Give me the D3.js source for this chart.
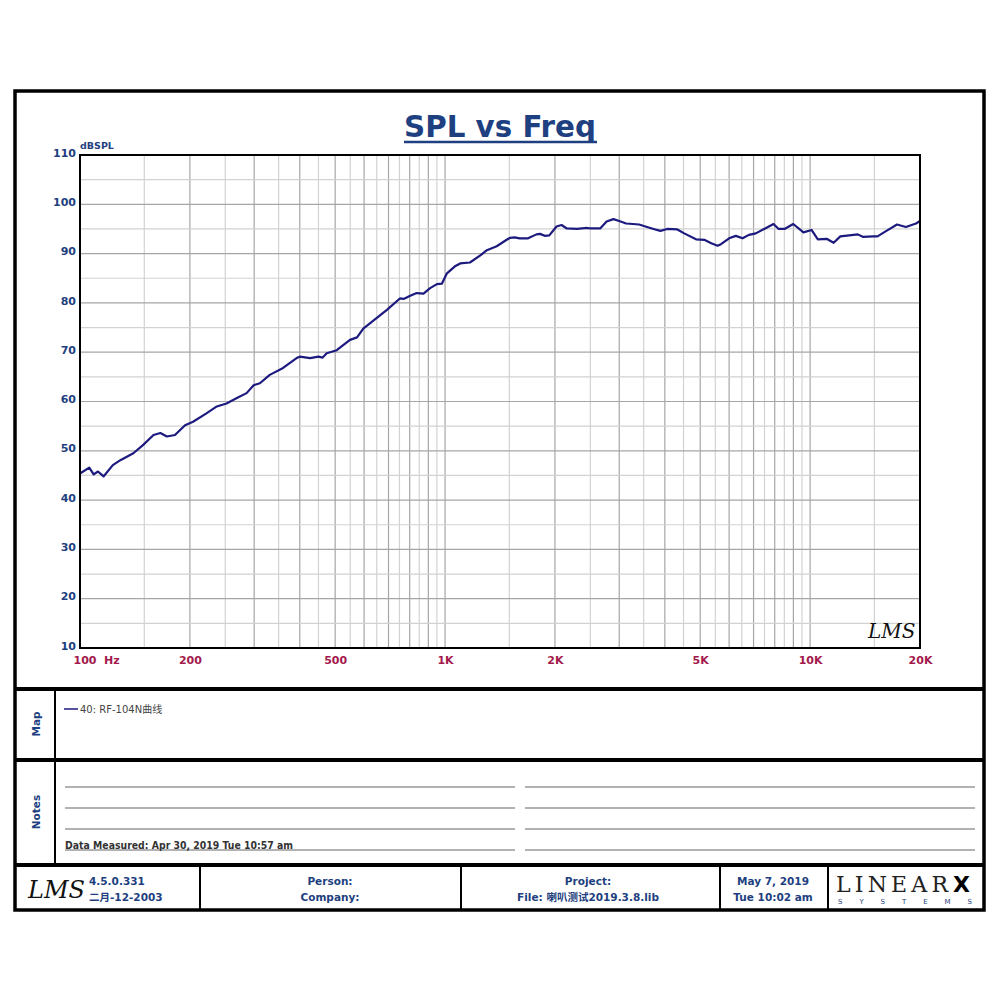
<!DOCTYPE html>
<html><head><meta charset="utf-8">
<script src="https://cdn.jsdelivr.net/npm/d3@7"></script>
<style>body{margin:0;background:#fff}svg{display:block}</style>
</head><body>
<svg id="c" width="1000" height="1000"></svg>
<script>
// ---- data ----
const freqs = [100,106,109,112,116,123,129,140,149,159,166,173,182,194,204,222,237,252,269,286,299,311,331,360,392,400,427,450,462,474,505,549,574,597,649,693,752,770,800,836,873,910,950,980,1012,1068,1100,1170,1252,1302,1385,1475,1508,1550,1600,1688,1780,1820,1875,1930,2020,2085,2155,2296,2450,2500,2660,2770,2893,3000,3133,3270,3400,3575,3725,3890,4060,4330,4520,4870,5130,5360,5580,5700,6000,6260,6530,6800,7100,7530,7940,8200,8510,8990,9590,10090,10500,11100,11600,12100,13150,13500,13940,14900,15300,16100,17300,18300,19500,20000];
const splValues = [45.4,46.6,45.2,45.8,44.8,47.1,48.1,49.5,51.2,53.2,53.6,52.9,53.2,55.2,55.9,57.6,59.0,59.6,60.7,61.7,63.3,63.7,65.4,66.8,68.8,69.1,68.8,69.1,68.9,69.8,70.4,72.5,73.0,74.8,76.9,78.6,80.9,80.8,81.4,82.0,81.9,83.0,83.8,83.9,86.0,87.5,88.0,88.2,89.7,90.7,91.5,92.8,93.2,93.3,93.1,93.1,93.9,94.0,93.6,93.7,95.5,95.8,95.1,95.0,95.2,95.1,95.1,96.5,97.0,96.6,96.1,96.0,95.9,95.4,95.0,94.6,95.0,94.9,94.1,92.9,92.8,92.1,91.6,91.9,93.1,93.6,93.1,93.8,94.1,95.1,96.0,95.0,95.0,96.0,94.3,94.8,92.9,93.0,92.2,93.5,93.8,93.9,93.4,93.5,93.5,94.5,95.9,95.4,96.1,96.6];
const xTickValues = [100,200,500,1000,2000,5000,10000,20000];
const xTickLabels = ["100  Hz","200","500","1K","2K","5K","10K","20K"];
const yTickValues = [10,20,30,40,50,60,70,80,90,100,110];
const seriesName = "40: RF-104N曲线";

const navy = "#1e3f80", crimson = "#a3194c", curveCol = "#1c1a7e";
const svg = d3.select("#c");
const L = 80, R = 920, T = 155, B = 648;
const x = d3.scaleLog().domain([100,20000]).range([L,R]);
const y = d3.scaleLinear().domain([10,110]).range([B,T]);

// outer frame
svg.append("rect").attr("x",15).attr("y",91).attr("width",969).attr("height",819)
  .attr("fill","none").attr("stroke","#000").attr("stroke-width",3.5);

// title
svg.append("text").attr("x",500).attr("y",137).attr("text-anchor","middle")
  .attr("font-family","DejaVu Sans, sans-serif").attr("font-weight","bold").attr("font-size",30)
  .attr("fill",navy).attr("textLength",192).attr("lengthAdjust","spacingAndGlyphs").text("SPL vs Freq");
svg.append("line").attr("x1",404).attr("x2",597).attr("y1",142).attr("y2",142).attr("stroke",navy).attr("stroke-width",2.5);

// grid
const gridF = [];
[100,1000,10000].forEach(d=>{ for(let m=1;m<10;m+=0.5){ const f=d*m; if(f>100 && f<20000) gridF.push({f, major: m%1===0}); } });
svg.append("g").selectAll("line").data(gridF).join("line")
  .attr("x1",d=>x(d.f)).attr("x2",d=>x(d.f)).attr("y1",T).attr("y2",B)
  .attr("stroke",d=>d.major?"#a6a6a6":"#d2d2d2").attr("stroke-width",1.2);
const gridY = d3.range(15,110,5);
svg.append("g").selectAll("line").data(gridY).join("line")
  .attr("x1",L).attr("x2",R).attr("y1",d=>y(d)).attr("y2",d=>y(d))
  .attr("stroke",d=>d%10===0?"#a6a6a6":"#d2d2d2").attr("stroke-width",1.2);

// curve
const line = d3.line().x(d=>x(d[0])).y(d=>y(d[1])).curve(d3.curveLinear);
svg.append("path").datum(freqs.map((f,i)=>[f,splValues[i]]))
  .attr("d",line).attr("fill","none").attr("stroke",curveCol).attr("stroke-width",2.2).attr("stroke-linejoin","round");

// plot border
svg.append("rect").attr("x",L).attr("y",T).attr("width",R-L).attr("height",B-T)
  .attr("fill","none").attr("stroke","#000").attr("stroke-width",2);

// axes
const xa = svg.append("g").attr("transform",`translate(0,${B})`)
  .call(d3.axisBottom(x).tickValues(xTickValues).tickSize(0).tickFormat((d,i)=>xTickLabels[i]));
xa.select(".domain").remove();
xa.selectAll("text").attr("dy",0).attr("y",16).attr("fill",crimson)
  .attr("font-family","DejaVu Sans, sans-serif").attr("font-size",11).attr("font-weight","bold")
  .style("white-space","pre").attr("xml:space","preserve");
xa.selectAll("text").filter((d,i)=>i===0).attr("text-anchor","start").attr("x",-7);
const ya = svg.append("g").attr("transform",`translate(${L},0)`)
  .call(d3.axisLeft(y).tickValues(yTickValues).tickSize(0).tickPadding(4));
ya.select(".domain").remove();
ya.selectAll("text").attr("fill",navy).attr("font-family","DejaVu Sans, sans-serif")
  .attr("font-size",11).attr("font-weight","bold").attr("dy","0.1em");
svg.append("text").attr("x",80).attr("y",149).attr("fill",navy)
  .attr("font-family","DejaVu Sans, sans-serif").attr("font-size",9.5).attr("font-weight","bold").text("dBSPL");

// LMS logo in plot
svg.append("text").attr("x",868).attr("y",638).attr("font-family","DejaVu Serif, serif").attr("font-style","italic")
  .attr("font-size",20).attr("fill","#111").attr("transform","rotate(0)").text("LMS");

// section lines
const thick = (x1,y1,x2,y2,w)=>svg.append("line").attr("x1",x1).attr("y1",y1).attr("x2",x2).attr("y2",y2).attr("stroke","#000").attr("stroke-width",w);
thick(15,689,984,689,4);
thick(15,760,984,760,4);
thick(15,865,984,865,4);
thick(55,689,55,865,2);
thick(200,865,200,910,2);
thick(461,865,461,910,2);
thick(720,865,720,910,2);
thick(828,865,828,910,2);

// side labels
[["Map",724],["Notes",812]].forEach(([t,cy])=>{
  svg.append("text").attr("transform",`translate(40,${cy}) rotate(-90)`).attr("text-anchor","middle")
    .attr("font-family","DejaVu Sans, sans-serif").attr("font-weight","bold").attr("font-size",10.5)
    .attr("fill",navy).text(t);
});

// legend
svg.append("line").attr("x1",64).attr("x2",78).attr("y1",709).attr("y2",709).attr("stroke",curveCol).attr("stroke-width",1.5);
svg.append("text").attr("x",80).attr("y",713).attr("font-family","DejaVu Sans, 'Noto Sans CJK SC', sans-serif")
  .attr("font-size",10).attr("fill","#444").text(seriesName);

// notes lines
[787,808,829,850].forEach(yy=>{
  svg.append("line").attr("x1",65).attr("x2",515).attr("y1",yy).attr("y2",yy).attr("stroke","#666").attr("stroke-width",1.2);
  svg.append("line").attr("x1",525).attr("x2",975).attr("y1",yy).attr("y2",yy).attr("stroke","#666").attr("stroke-width",1.2);
});
svg.append("text").attr("x",65).attr("y",849).attr("font-family","DejaVu Sans, sans-serif").attr("font-size",10)
  .attr("font-weight","bold").attr("fill","#333").attr("textLength",228).attr("lengthAdjust","spacingAndGlyphs")
  .text("Data Measured: Apr 30, 2019  Tue 10:57 am");

// footer
svg.append("text").attr("x",28).attr("y",898).attr("font-family","DejaVu Serif, serif").attr("font-style","italic")
  .attr("font-size",24).attr("fill","#111").text("LMS");
const ft = (t,xx,yy,anchor)=>svg.append("text").attr("x",xx).attr("y",yy).attr("text-anchor",anchor||"middle")
  .attr("font-family","DejaVu Sans, 'Noto Sans CJK SC', sans-serif").attr("font-size",10.5).attr("font-weight","bold")
  .attr("fill",navy).text(t);
ft("4.5.0.331",89,885,"start");
ft("二月-12-2003",89,901,"start");
ft("Person:",330,885);
ft("Company:",330,901);
ft("Project:",588,885);
ft("File: 喇叭测试2019.3.8.lib",588,901);
ft("May  7, 2019",773,885);
ft("Tue 10:02 am",773,901);

// LINEARX logo
svg.append("text").attr("x",836).attr("y",892).attr("font-family","DejaVu Serif, serif").attr("font-size",22)
  .attr("fill","#222").attr("textLength",112).attr("lengthAdjust","spacing").text("LINEAR");
svg.append("text").attr("x",953).attr("y",892).attr("font-family","DejaVu Sans, sans-serif").attr("font-size",22)
  .attr("font-weight","bold").attr("fill","#000").text("X");
svg.append("text").attr("x",838).attr("y",904).attr("font-family","DejaVu Sans, sans-serif").attr("font-size",7)
  .attr("fill",navy).attr("textLength",134).attr("lengthAdjust","spacing").text("SYSTEMS");
</script>
</body></html>
